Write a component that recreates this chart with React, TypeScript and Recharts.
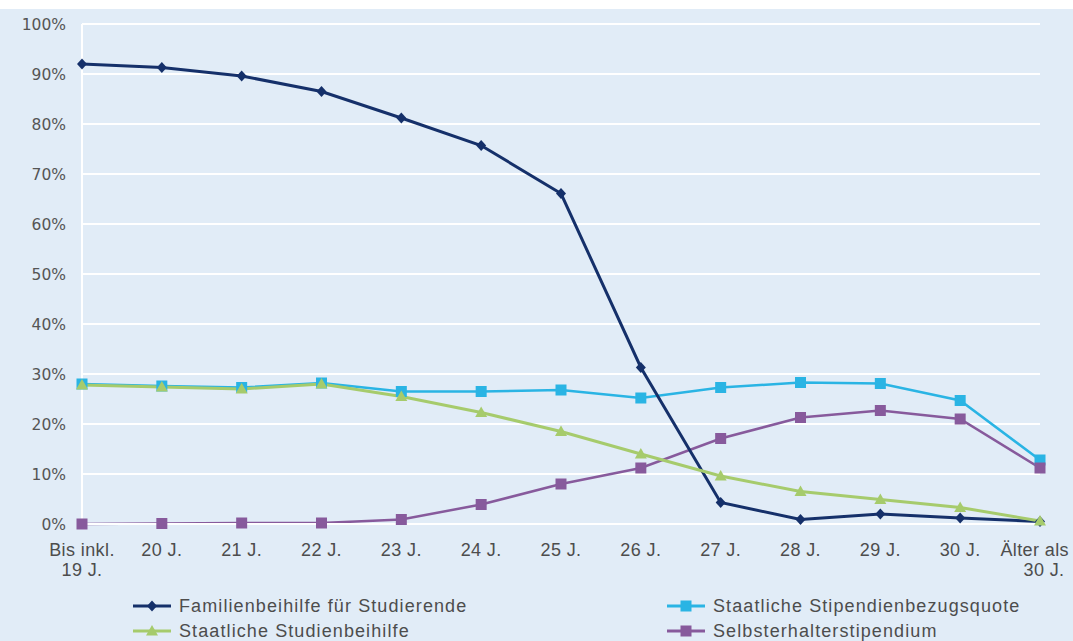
import { LineChart, Line, XAxis, YAxis, CartesianGrid } from "recharts";

// age groups (x axis), a "\n" splits a label over two lines
const ageGroups = [
  "Bis inkl.\n19 J.",
  "20 J.",
  "21 J.",
  "22 J.",
  "23 J.",
  "24 J.",
  "25 J.",
  "26 J.",
  "27 J.",
  "28 J.",
  "29 J.",
  "30 J.",
  "Älter als\n30 J.",
];

// shares in % per age group
const familienbeihilfe = [92.0, 91.3, 89.6, 86.5, 81.2, 75.7, 66.1, 31.3, 4.3, 0.9, 2.0, 1.2, 0.5];
const stipendienbezugsquote = [28.0, 27.6, 27.3, 28.2, 26.5, 26.5, 26.8, 25.2, 27.3, 28.3, 28.1, 24.7, 12.8];
const studienbeihilfe = [27.8, 27.4, 27.0, 28.0, 25.5, 22.3, 18.5, 14.0, 9.6, 6.5, 4.9, 3.3, 0.6];
const selbsterhalter = [0.0, 0.1, 0.2, 0.2, 0.9, 3.9, 8.0, 11.2, 17.1, 21.3, 22.7, 21.0, 11.2];

const yTicks = [0, 10, 20, 30, 40, 50, 60, 70, 80, 90, 100];

const NAVY = "#15306a";
const CYAN = "#2ab4e4";
const GREEN = "#a6cb6c";
const PURPLE = "#875a9c";
const PANEL = "#e1ecf7";
const TEXT = "#4d4d4d";
const NARROW = "'Liberation Sans Narrow', 'Liberation Sans', Arial, sans-serif";

const data = ageGroups.map((age, i) => ({
  age,
  fam: familienbeihilfe[i],
  stip: stipendienbezugsquote[i],
  stud: studienbeihilfe[i],
  selbst: selbsterhalter[i],
}));

type Shape = "diamond" | "square" | "triangle";

function Marker({ cx, cy, shape, color }: { cx: number; cy: number; shape: Shape; color: string }) {
  if (shape === "diamond") {
    return <polygon points={`${cx},${cy - 5.5} ${cx + 5},${cy} ${cx},${cy + 5.5} ${cx - 5},${cy}`} fill={color} />;
  }
  if (shape === "triangle") {
    return <polygon points={`${cx},${cy - 6} ${cx + 6},${cy + 4.5} ${cx - 6},${cy + 4.5}`} fill={color} />;
  }
  return <rect x={cx - 5.5} y={cy - 5.5} width={11} height={11} fill={color} />;
}

const dotOf = (shape: Shape, color: string) => (props: any) => {
  const { cx, cy, index } = props;
  if (cx == null || cy == null) return <g key={`e-${shape}-${index}`} />;
  return <Marker key={`${shape}-${color}-${index}`} cx={cx} cy={cy} shape={shape} color={color} />;
};

function AgeTick({ x, y, payload, index }: any) {
  const lines = String(payload.value).split("\n");
  // the last label sits at the right edge, keep its first line inside the picture
  const last = index === ageGroups.length - 1;
  return (
    <text x={x} y={y} fill={TEXT} fontSize={18} fontFamily={NARROW} letterSpacing={0.4}>
      {lines.map((l, i) => (
        <tspan
          key={i}
          x={last && i === 0 ? 1069 : last ? x + 4 : x}
          dy={i === 0 ? 24 : 20}
          textAnchor={last && i === 0 ? "end" : "middle"}
        >
          {l}
        </tspan>
      ))}
    </text>
  );
}

const legendItems: { name: string; color: string; shape: Shape; left: number; top: number }[] = [
  { name: "Familienbeihilfe für Studierende", color: NAVY, shape: "diamond", left: 133, top: 606 },
  { name: "Staatliche Stipendienbezugsquote", color: CYAN, shape: "square", left: 667, top: 606 },
  { name: "Staatliche Studienbeihilfe", color: GREEN, shape: "triangle", left: 133, top: 631 },
  { name: "Selbsterhalterstipendium", color: PURPLE, shape: "square", left: 667, top: 631 },
];

export default function App() {
  return (
    <div style={{ position: "absolute", left: 0, top: 0, width: 1073, height: 641, background: "#fff", overflow: "hidden" }}>
      <div style={{ position: "absolute", left: 0, top: 9, width: 1073, height: 632, background: PANEL }} />
      <div style={{ position: "absolute", left: 0, top: 0 }}>
        <LineChart width={1073} height={641} data={data} margin={{ top: 24, right: 33, left: 0, bottom: 67 }}>
          <CartesianGrid vertical={false} stroke="#ffffff" strokeWidth={2} />
          <XAxis
            dataKey="age"
            interval={0}
            tick={<AgeTick />}
            tickLine={false}
            axisLine={{ stroke: "#ffffff", strokeWidth: 2 }}
            height={50}
          />
          <YAxis
            domain={[0, 100]}
            ticks={yTicks}
            tickFormatter={(v: number) => `${v}%`}
            tick={{ fill: "#555", fontSize: 15.5, fontFamily: "'DejaVu Sans', sans-serif" }}
            tickLine={false}
            tickMargin={10}
            axisLine={{ stroke: "#ffffff", strokeWidth: 2 }}
            width={82}
          />
          <Line dataKey="stip" stroke={CYAN} strokeWidth={2.5} dot={dotOf("square", CYAN)} isAnimationActive={false} />
          <Line dataKey="selbst" stroke={PURPLE} strokeWidth={2.5} dot={dotOf("square", PURPLE)} isAnimationActive={false} />
          <Line dataKey="fam" stroke={NAVY} strokeWidth={3} dot={dotOf("diamond", NAVY)} isAnimationActive={false} />
          <Line dataKey="stud" stroke={GREEN} strokeWidth={3} dot={dotOf("triangle", GREEN)} isAnimationActive={false} />
        </LineChart>
      </div>
      {legendItems.map((item) => (
        <div
          key={item.name}
          style={{
            position: "absolute",
            left: item.left,
            top: item.top - 11,
            height: 22,
            display: "flex",
            alignItems: "center",
            whiteSpace: "nowrap",
          }}
        >
          <svg width={38} height={14} style={{ marginRight: 8 }}>
            <line x1={0} y1={7} x2={38} y2={7} stroke={item.color} strokeWidth={3} />
            <Marker cx={19} cy={7} shape={item.shape} color={item.color} />
          </svg>
          <span style={{ fontFamily: NARROW, fontSize: 18, letterSpacing: 1.1, color: TEXT }}>{item.name}</span>
        </div>
      ))}
    </div>
  );
}
